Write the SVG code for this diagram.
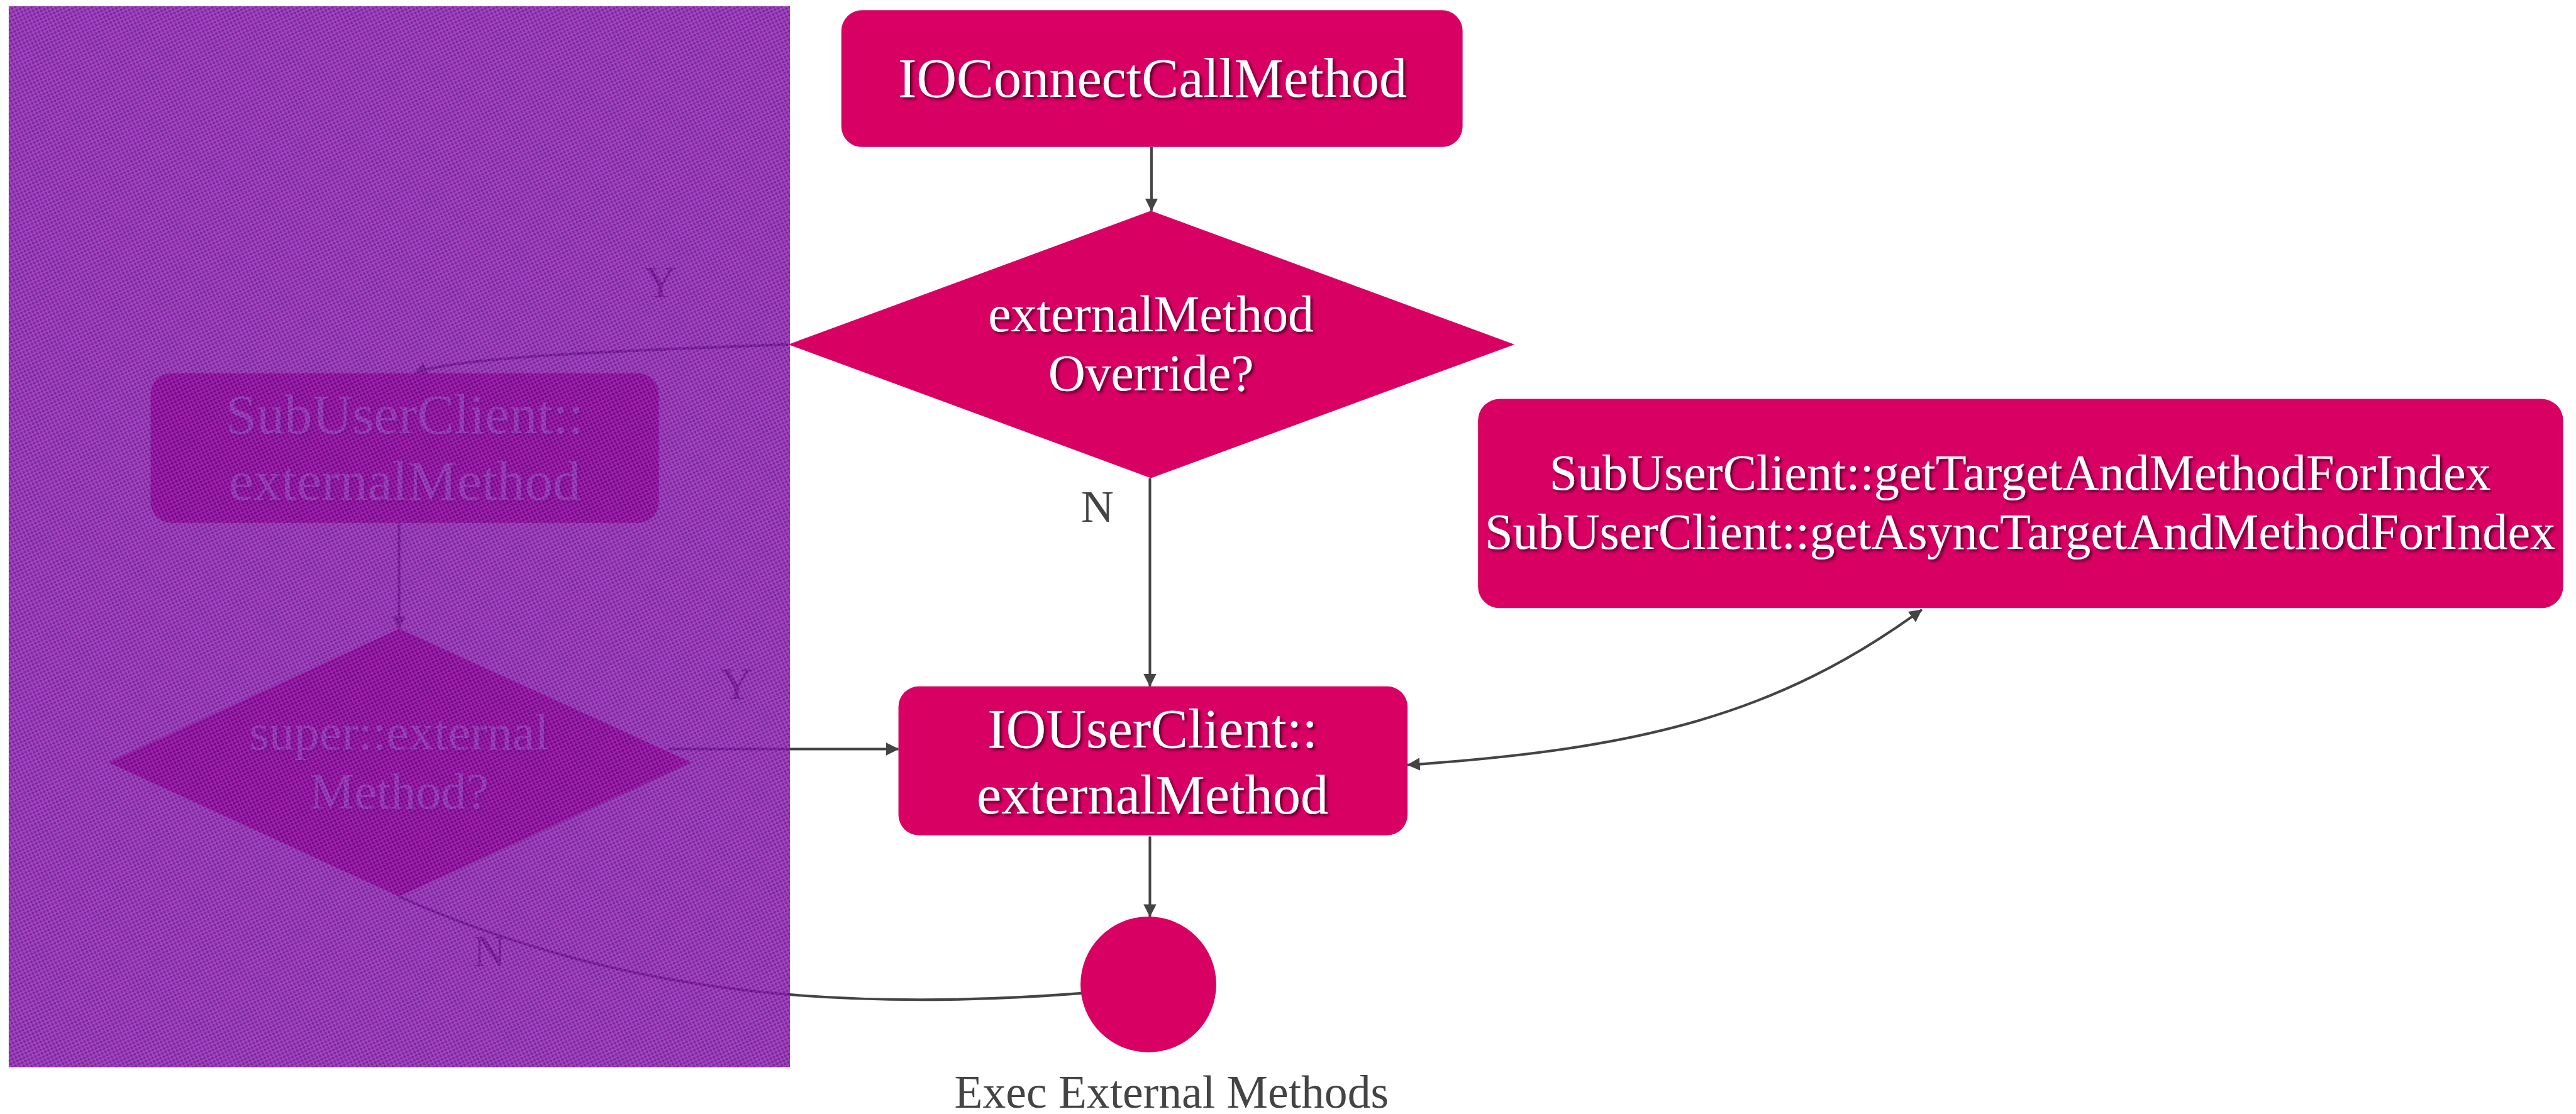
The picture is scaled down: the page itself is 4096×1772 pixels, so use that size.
<svg xmlns="http://www.w3.org/2000/svg" width="4096" height="1772" viewBox="0 0 4096 1772">
<defs>
<style>
.node{fill:#D90063;}
.nt{fill:#FFFFFF;font-family:"Liberation Serif","DejaVu Serif",serif;text-anchor:middle;filter:url(#ts);}
.lbl{fill:#444444;font-family:"Liberation Serif","DejaVu Serif",serif;text-anchor:middle;font-size:88px;}
.edge{fill:none;stroke:#444444;stroke-width:5;}
</style>
<filter id="ts" x="-5%" y="-20%" width="110%" height="150%">
<feDropShadow dx="4" dy="4" stdDeviation="2.5" flood-color="#000000" flood-opacity="0.6"/>
</filter>
<marker id="arr" viewBox="0 0 25 25" refX="24" refY="12.5" markerWidth="25" markerHeight="25" markerUnits="userSpaceOnUse" orient="auto-start-reverse">
<path d="M0,0 L25,12.5 L0,25 Z" fill="#444444"/>
</marker>
<pattern id="dots" width="10" height="10" patternUnits="userSpaceOnUse" patternTransform="rotate(20)">
<rect width="10" height="10" fill="#9A26BC"/>
<circle cx="2.5" cy="2.5" r="2.6" fill="#5E0C84"/>
<circle cx="7.5" cy="7.5" r="2.6" fill="#5E0C84"/>
</pattern>
</defs>
<rect width="4096" height="1772" fill="#FFFFFF"/>
<g transform="scale(0.81773)">
<g id="connectors">
<path class="edge" d="M2239,286 L2239,410" marker-end="url(#arr)"/>
<path class="edge" d="M2236,930 L2236,1335" marker-end="url(#arr)"/>
<path class="edge" d="M2236,1627 L2236,1783" marker-end="url(#arr)"/>
<path class="edge" d="M2737,1488 C3187,1457 3454,1392 3737,1186" marker-start="url(#arr)" marker-end="url(#arr)"/>
<path class="edge" d="M1533,670 C1200,682 880,695 806,726" marker-end="url(#arr)"/>
<path class="edge" d="M776,1017 L776,1223" marker-end="url(#arr)"/>
<path class="edge" d="M1300,1457 L1747,1457" marker-end="url(#arr)"/>
<path class="edge" d="M776,1744 C1150,1910 1550,1975 2104,1932"/>
</g>
<g id="lbl-y1"><text class="lbl" x="1284" y="578">Y</text></g>
<g id="lbl-n1"><text class="lbl" x="2134" y="1015">N</text></g>
<g id="lbl-y2"><text class="lbl" x="1432" y="1360">Y</text></g>
<g id="lbl-n2"><text class="lbl" x="952" y="1880">N</text></g>
<g id="node-ioconnect">
<rect class="node" x="1636" y="20" width="1208" height="266" rx="40"/>
<text class="nt" x="2241" y="188" font-size="108">IOConnectCallMethod</text>
</g>
<g id="node-override">
<polygon class="node" points="2238,410 2945,670 2238,930 1533,670"/>
<text class="nt" x="2238" y="644" font-size="100">externalMethod</text>
<text class="nt" x="2238" y="760" font-size="100">Override?</text>
</g>
<g id="node-gettarget">
<rect class="node" x="2874" y="776" width="2110" height="407" rx="42"/>
<text class="nt" x="3928" y="953" font-size="98">SubUserClient::getTargetAndMethodForIndex</text>
<text class="nt" x="3928" y="1067" font-size="98">SubUserClient::getAsyncTargetAndMethodForIndex</text>
</g>
<g id="node-iouserclient">
<rect class="node" x="1747" y="1335" width="990" height="290" rx="40"/>
<text class="nt" x="2241" y="1454" font-size="108">IOUserClient::</text>
<text class="nt" x="2241" y="1582" font-size="108">externalMethod</text>
</g>
<g id="node-exec">
<circle class="node" cx="2233" cy="1915" r="132"/>
<text class="lbl" x="2278" y="2155" style="font-size:90px">Exec External Methods</text>
</g>
<g id="node-subexternal">
<rect class="node" x="293" y="726" width="988" height="291" rx="40"/>
<text class="nt" x="787" y="842" font-size="108">SubUserClient::</text>
<text class="nt" x="787" y="972" font-size="108">externalMethod</text>
</g>
<g id="node-superexternal">
<polygon class="node" points="776,1223 1345,1483 776,1744 211,1483"/>
<text class="nt" x="776" y="1458" font-size="98">super::external</text>
<text class="nt" x="776" y="1573" font-size="98">Method?</text>
</g>
<g id="overlay">
<rect x="17" y="12" width="1519" height="2064" fill="url(#dots)" opacity="0.87"/>
</g>
</g>
</svg>
